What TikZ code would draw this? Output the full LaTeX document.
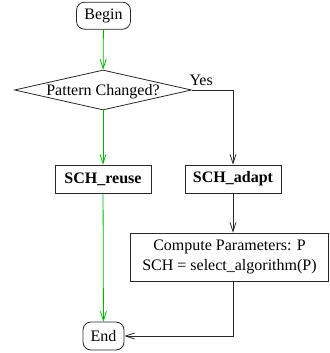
\documentclass[tikz,border=0pt]{standalone}
\usepackage{fontspec}
\setmainfont{Liberation Serif}
\usetikzlibrary{shapes.geometric,arrows.meta}
\definecolor{flowgreen}{RGB}{0,180,0}
\definecolor{lineblack}{RGB}{40,40,40}
\begin{document}
\begin{tikzpicture}[x=1pt,y=-1pt,
  every node/.style={font=\fontsize{16}{20}\selectfont},
  terminal/.style={draw=lineblack,line width=0.8pt,rounded corners=8pt,minimum height=27pt,inner sep=0pt},
  procbox/.style={draw=lineblack,line width=0.8pt,minimum height=28pt,inner sep=0pt},
  decision/.style={draw=lineblack,line width=0.8pt,diamond,aspect=4.4,minimum width=177pt,minimum height=40pt,inner sep=0pt},
  flow/.style={line width=0.8pt,-{Straight Barb[length=9pt,width=6pt]}},
  noflow/.style={flow,draw=flowgreen},
  yesflow/.style={flow,draw=lineblack}]
\useasboundingbox (0,0) rectangle (329,353);
\node[terminal,minimum width=54pt] (begin) at (103.5,15.7) {Begin};
\node[decision] (dec) at (103,90) {\smash{\raisebox{-5pt}{Pattern Changed?}}};
\node[anchor=base west] (yes) at (186,85) {Yes};
\node[procbox,minimum width=96pt,font=\fontsize{16}{20}\selectfont\bfseries] (reuse) at (103,179) {SCH\_reuse};
\node[procbox,minimum width=96pt,font=\fontsize{16}{20}\selectfont\bfseries] (adapt) at (233,179) {SCH\_adapt};
\node[procbox,minimum width=198pt,minimum height=48pt,align=center] (comp) at (229.5,257) {Compute Parameters: P\\SCH = select\_algorithm(P)};
\node[terminal,minimum width=41pt,minimum height=28pt] (end) at (103.5,336) {End};
\draw[noflow] (begin) -- (dec);
\draw[noflow] (dec) -- (reuse);
\draw[noflow] (reuse) -- (end);
\draw[yesflow] (dec.east) -| (adapt.north);
\draw[yesflow] (adapt) -- (adapt |- comp.north);
\draw[yesflow] (adapt |- comp.south) |- (end.east);
\end{tikzpicture}
\end{document}
